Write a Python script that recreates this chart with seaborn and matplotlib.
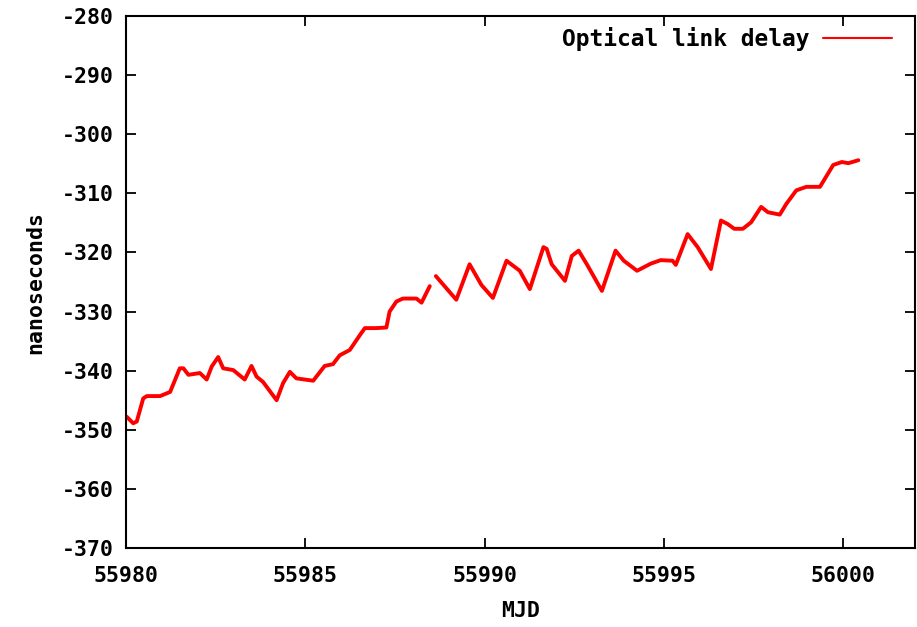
import numpy as np
import pandas as pd
import matplotlib
matplotlib.use("Agg")
import matplotlib.pyplot as plt
import seaborn as sns
from matplotlib.lines import Line2D

# Data (MJD, nanoseconds); two segments separated by a gap
mjd_a = [55980.02, 55980.20, 55980.30, 55980.48, 55980.58, 55980.95, 55981.23, 55981.50,
         55981.60, 55981.74, 55982.06, 55982.25, 55982.39, 55982.57, 55982.71, 55982.99,
         55983.31, 55983.50, 55983.64, 55983.82, 55984.20, 55984.38, 55984.57, 55984.75,
         55985.22, 55985.54, 55985.77, 55985.96, 55986.24, 55986.52, 55986.66, 55986.98,
         55987.26, 55987.35, 55987.54, 55987.72, 55988.10, 55988.24, 55988.47]
delay_a = [-347.8, -348.9, -348.6, -344.7, -344.3, -344.3, -343.6, -339.6,
           -339.6, -340.7, -340.4, -341.5, -339.3, -337.7, -339.6, -339.9,
           -341.5, -339.2, -341.0, -341.9, -345.0, -342.1, -340.2, -341.3,
           -341.7, -339.2, -338.9, -337.4, -336.5, -334.0, -332.8, -332.8,
           -332.7, -330.0, -328.3, -327.8, -327.8, -328.5, -325.7]

mjd_b = [55988.64, 55989.21, 55989.58, 55989.91, 55990.23, 55990.61, 55990.98, 55991.26,
         55991.64, 55991.73, 55991.87, 55992.24, 55992.43, 55992.62, 55992.85, 55993.27,
         55993.65, 55993.88, 55994.25, 55994.63, 55994.91, 55995.24, 55995.33, 55995.66,
         55995.94, 55996.31, 55996.59, 55996.78, 55996.96, 55997.20, 55997.43, 55997.71,
         55997.90, 55998.23, 55998.41, 55998.69, 55998.97, 55999.35, 55999.49, 55999.72,
         55999.96, 56000.14, 56000.42]
delay_b = [-324.0, -328.0, -322.0, -325.5, -327.7, -321.4, -323.1, -326.2,
           -319.1, -319.4, -322.0, -324.8, -320.6, -319.7, -322.0, -326.5,
           -319.7, -321.4, -323.1, -321.9, -321.3, -321.4, -322.1, -316.9,
           -319.1, -322.8, -314.6, -315.2, -316.0, -316.0, -314.9, -312.3,
           -313.2, -313.6, -311.8, -309.5, -308.9, -308.9, -307.5, -305.2,
           -304.7, -304.9, -304.4]

x_ticks = [55980, 55985, 55990, 55995, 56000]
y_ticks = [-370, -360, -350, -340, -330, -320, -310, -300, -290, -280]

df = pd.DataFrame({
    "MJD": mjd_a + mjd_b,
    "ns": delay_a + delay_b,
    "seg": [0] * len(mjd_a) + [1] * len(mjd_b),
})

sns.set_style("ticks")
plt.rcParams["font.family"] = ["DejaVu Sans Mono", "DejaVu Sans"]
plt.rcParams["font.weight"] = "bold"
plt.rcParams["axes.unicode_minus"] = False
for k in ["text.color", "axes.labelcolor", "xtick.color", "ytick.color",
          "xtick.labelcolor", "ytick.labelcolor"]:
    plt.rcParams[k] = "black"

fig = plt.figure(figsize=(9.17, 6.27), dpi=100)
ax = fig.add_axes([126 / 917, 79 / 627, 789 / 917, 532 / 627])

sns.lineplot(data=df, x="MJD", y="ns", units="seg", estimator=None,
             color="#ff0000", linewidth=2.8, ax=ax, legend=False)

ax.set_xlim(55980, 56002)
ax.set_ylim(-370, -280)
ax.set_xticks(x_ticks)
ax.set_xticklabels([str(t) for t in x_ticks])
ax.set_yticks(y_ticks)
ax.set_yticklabels([str(t) for t in y_ticks])

ax.tick_params(axis="both", direction="in", length=7, width=1.3, color="black",
               labelcolor="black", top=True, right=True, labelsize=15.5)
ax.tick_params(axis="x", pad=13)
ax.tick_params(axis="y", pad=9)
for s in ax.spines.values():
    s.set_visible(True)
    s.set_linewidth(1.5)
    s.set_color("black")

ax.set_xlabel("MJD", fontsize=15.5, fontweight="bold", labelpad=11, color="black")
ax.set_ylabel("nanoseconds", fontsize=15.5, fontweight="bold", labelpad=12, color="black")

handle = Line2D([0], [0], color="#ff0000", linewidth=1.5)
leg = ax.legend([handle], ["Optical link delay"], loc="upper right", frameon=False,
                markerfirst=False, fontsize=16.5, handlelength=3.0,
                borderaxespad=0.1, handletextpad=0.6,
                bbox_to_anchor=(0.985, 1.0))

fig.savefig("out.png", dpi=100)
